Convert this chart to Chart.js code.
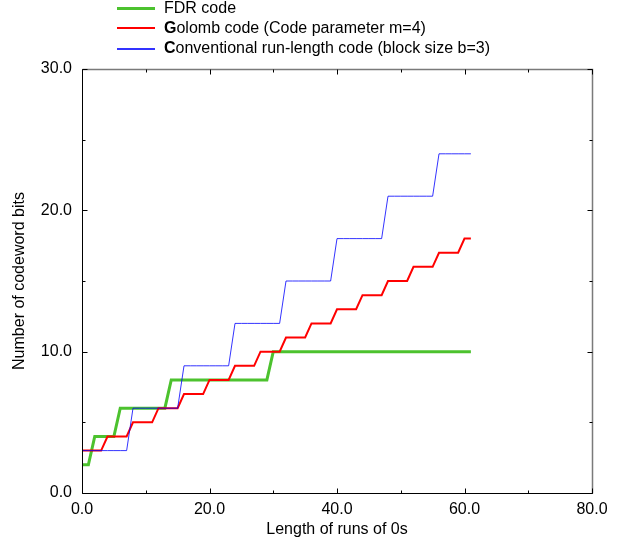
<!DOCTYPE html>
<html>
<head>
<meta charset="utf-8">
<script src="https://cdn.jsdelivr.net/npm/chart.js@4"></script>
<style>
  html, body { margin: 0; padding: 0; background: #fff; }
  #wrap { position: relative; width: 619px; height: 539px; }
  #chart { position: absolute; left: 0; top: 0; }
  .legend-row { position: absolute; left: 117px; height: 20px; font: 16px "Liberation Sans", Arial, sans-serif; color: #000; }
  .legend-row .swatch { position: absolute; left: 0; width: 38px; }
  .legend-row .label { position: absolute; left: 47px; top: 0; white-space: nowrap; line-height: 20px; }
</style>
</head>
<body>
<div id="wrap">
  <canvas id="chart" width="619" height="539"></canvas>
</div>
<script>
const runLengths = [
  0, 1, 2, 3, 4, 5, 6, 7, 8, 9, 10, 11, 12, 13, 14, 15, 16, 17, 18, 19, 20,
  21, 22, 23, 24, 25, 26, 27, 28, 29, 30, 31, 32, 33, 34, 35, 36, 37, 38, 39, 40,
  41, 42, 43, 44, 45, 46, 47, 48, 49, 50, 51, 52, 53, 54, 55, 56, 57, 58, 59, 60, 61,
];

const fdrBits = [
  2, 2, 4, 4, 4, 4, 6, 6, 6, 6, 6, 6, 6, 6, 8, 8, 8, 8, 8, 8, 8,
  8, 8, 8, 8, 8, 8, 8, 8, 8, 10, 10, 10, 10, 10, 10, 10, 10, 10, 10, 10,
  10, 10, 10, 10, 10, 10, 10, 10, 10, 10, 10, 10, 10, 10, 10, 10, 10, 10, 10, 10, 10,
];

const golombBits = [
  3, 3, 3, 3, 4, 4, 4, 4, 5, 5, 5, 5, 6, 6, 6, 6, 7, 7, 7, 7, 8,
  8, 8, 8, 9, 9, 9, 9, 10, 10, 10, 10, 11, 11, 11, 11, 12, 12, 12, 12, 13,
  13, 13, 13, 14, 14, 14, 14, 15, 15, 15, 15, 16, 16, 16, 16, 17, 17, 17, 17, 18, 18,
];

const conventionalBits = [
  3, 3, 3, 3, 3, 3, 3, 3, 6, 6, 6, 6, 6, 6, 6, 6, 9, 9, 9, 9, 9,
  9, 9, 9, 12, 12, 12, 12, 12, 12, 12, 12, 15, 15, 15, 15, 15, 15, 15, 15, 18,
  18, 18, 18, 18, 18, 18, 18, 21, 21, 21, 21, 21, 21, 21, 21, 24, 24, 24, 24, 24, 24,
];

const xMajorTicks = [0, 20, 40, 60, 80];
const xMinorTicks = [10, 30, 50, 70];
const yMajorTicks = [0, 10, 20, 30];
const yMinorTicks = [5, 15, 25];

const seriesInfo = [
  { label: 'FDR code', bold: '', rest: 'FDR code', values: fdrBits, color: '#4cc22e', width: 3, order: 3 },
  { label: 'Golomb code (Code parameter m=4)', bold: 'G', rest: 'olomb code (Code parameter m=4)', values: golombBits, color: '#ff0000', width: 2, order: 2 },
  { label: 'Conventional run-length code (block size b=3)', bold: 'C', rest: 'onventional run-length code (block size b=3)', values: conventionalBits, color: 'rgba(0,0,255,0.8)', width: 1, order: 1 },
];

const FONT = '"Liberation Sans", Arial, sans-serif';

// html legend (first letters are bold in the original)
const wrap = document.getElementById('wrap');
const legendTops = [-2, 18, 38];
seriesInfo.forEach((s, i) => {
  const row = document.createElement('div');
  row.className = 'legend-row';
  row.style.top = legendTops[i] + 'px';
  const sw = document.createElement('div');
  sw.className = 'swatch';
  sw.style.background = s.color;
  sw.style.height = Math.max(s.width, 1.5) + 'px';
  sw.style.top = (10 - Math.floor(s.width / 2)) + 'px';
  const lab = document.createElement('div');
  lab.className = 'label';
  if (s.bold) {
    const b = document.createElement('b');
    b.textContent = s.bold;
    lab.appendChild(b);
  }
  lab.appendChild(document.createTextNode(s.rest));
  row.appendChild(sw);
  row.appendChild(lab);
  wrap.appendChild(row);
});

const frameTicks = {
  id: 'frameTicks',
  afterDatasetsDraw(chart) {
    const { ctx, chartArea: a, scales } = chart;
    const L = Math.round(a.left) + 0.5;
    const R = Math.round(a.right) + 0.5;
    const T = Math.round(a.top) + 0.5;
    const B = Math.round(a.bottom) + 0.5;
    ctx.save();
    // top / right in grey
    ctx.strokeStyle = '#7a7a7a';
    ctx.lineWidth = 1.5;
    ctx.beginPath();
    ctx.moveTo(L, T);
    ctx.lineTo(R, T);
    ctx.lineTo(R, B);
    ctx.stroke();
    // bottom / left in black
    ctx.strokeStyle = '#000';
    ctx.lineWidth = 1;
    ctx.beginPath();
    ctx.moveTo(L, T);
    ctx.lineTo(L, B);
    ctx.lineTo(R, B);
    ctx.stroke();

    ctx.beginPath();
    const xtick = (vals, len) => {
      vals.forEach((v) => {
        const px = Math.round(scales.x.getPixelForValue(v)) + 0.5;
        ctx.moveTo(px, B);
        ctx.lineTo(px, B - len);
        ctx.moveTo(px, T);
        ctx.lineTo(px, T + len);
      });
    };
    const ytick = (vals, len) => {
      vals.forEach((v) => {
        const py = Math.round(scales.y.getPixelForValue(v)) + 0.5;
        ctx.moveTo(L, py);
        ctx.lineTo(L + len, py);
        ctx.moveTo(R, py);
        ctx.lineTo(R - len, py);
      });
    };
    xtick(xMajorTicks, 5);
    xtick(xMinorTicks, 3);
    ytick(yMajorTicks, 5);
    ytick(yMinorTicks, 3);
    ctx.stroke();
    ctx.restore();
  },
};

new Chart(document.getElementById('chart'), {
  type: 'line',
  data: {
    datasets: seriesInfo.map((s) => ({
      label: s.label,
      data: runLengths.map((x, i) => ({ x, y: s.values[i] })),
      borderColor: s.color,
      backgroundColor: s.color,
      borderWidth: s.width,
      pointRadius: 0,
      tension: 0,
      fill: false,
      order: s.order,
    })),
  },
  options: {
    responsive: false,
    animation: false,
    layout: { padding: { left: 0, right: 27, top: 69, bottom: 0 } },
    scales: {
      x: {
        type: 'linear',
        min: 0,
        max: 80,
        afterFit: (scale) => { scale.height = 46; },
        afterBuildTicks: (scale) => { scale.ticks = xMajorTicks.map((v) => ({ value: v })); },
        ticks: {
          color: '#000',
          font: { family: FONT, size: 16 },
          padding: 7,
          maxRotation: 0,
          callback: (v) => Number(v).toFixed(1),
        },
        grid: { display: false, drawTicks: false },
        border: { display: false },
        title: {
          display: true,
          text: 'Length of runs of 0s',
          color: '#000',
          font: { family: FONT, size: 16 },
          padding: { top: 2, bottom: 0 },
        },
      },
      y: {
        type: 'linear',
        min: 0,
        max: 30,
        afterFit: (scale) => { scale.width = 82; },
        afterBuildTicks: (scale) => { scale.ticks = yMajorTicks.map((v) => ({ value: v })); },
        ticks: {
          color: '#000',
          font: { family: FONT, size: 16 },
          padding: 10,
          callback: (v) => Number(v).toFixed(1),
        },
        grid: { display: false, drawTicks: false },
        border: { display: false },
        title: {
          display: true,
          text: 'Number of codeword bits',
          color: '#000',
          font: { family: FONT, size: 16 },
          padding: { top: 10, bottom: 4 },
        },
      },
    },
    plugins: {
      legend: { display: false },
      tooltip: { enabled: false },
    },
  },
  plugins: [frameTicks],
});
</script>
</body>
</html>
